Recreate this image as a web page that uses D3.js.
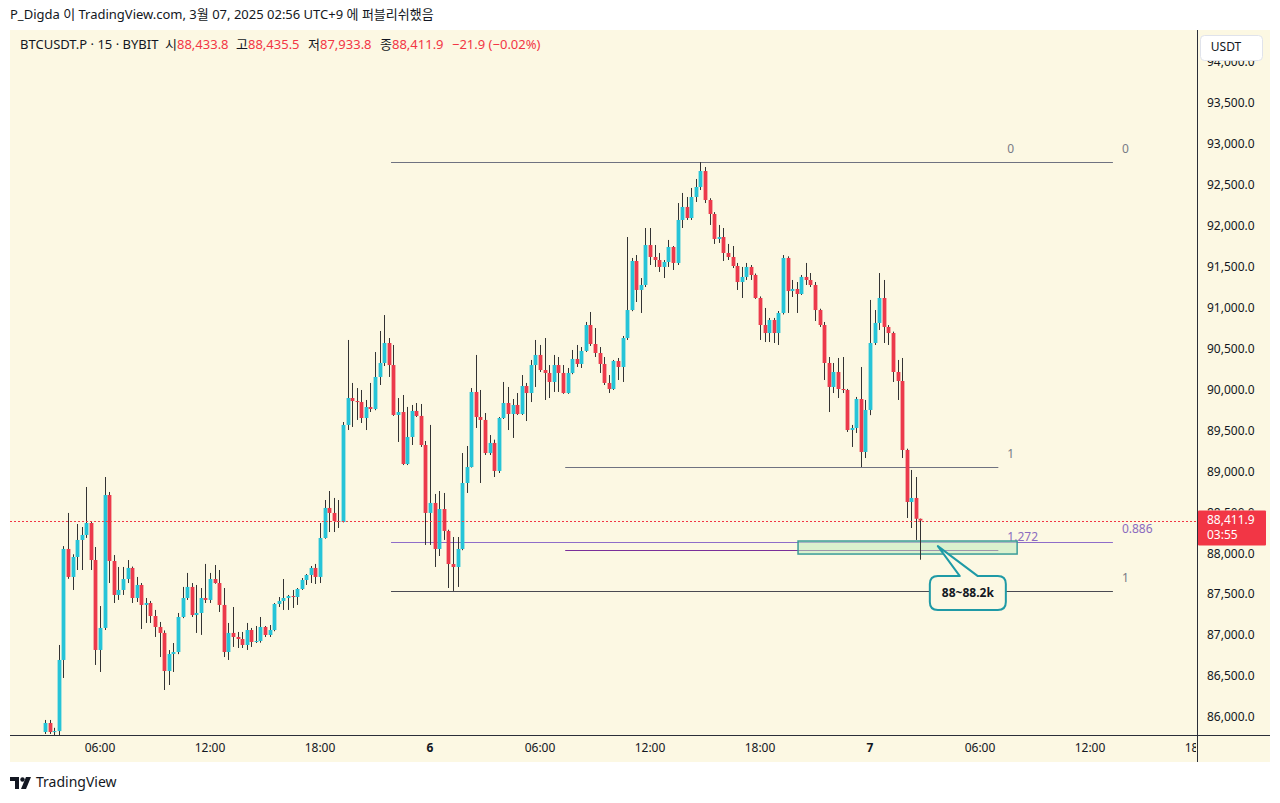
<!DOCTYPE html>
<html><head><meta charset="utf-8">
<script src="https://cdn.jsdelivr.net/npm/d3@7"></script>
<style>
body{margin:0;background:#ffffff;}
svg{display:block;font-family:"Noto Sans","Noto Sans CJK KR",sans-serif;}
</style>
</head><body>
<svg id="chart" width="1280" height="803"></svg>
<script>
// ---- DATA (15m candles, BTCUSDT.P, index 0 = 03:00 on the 5th) ----
const openP=[
85829,85939,85829,85840,86709,88065,87723,87967,88175,88236,
88382,87930,86831,87100,88724,87918,87503,87564,87698,87833,
87466,87625,87381,87405,87246,87112,87039,86574,86782,86806,
87234,87466,87601,87258,87283,87466,87442,87698,87649,87381,
86806,87039,86990,86965,86892,87075,86929,86941,87112,87014,
87075,87393,87430,87466,87490,87478,87576,87686,87747,87833,
87723,88199,88566,88505,88407,88395,89580,89909,89872,89860,
89665,89799,89775,90166,90337,90581,90312,89702,89738,89103,
89433,89751,89690,89335,88505,88627,88065,88553,88285,87881,
87845,88065,88871,89066,89983,89677,89641,89237,89360,89018,
89665,89848,89714,89824,89714,90056,89970,90312,90435,90251,
90215,90105,90312,90215,89970,90215,90386,90325,90484,90801,
90569,90459,90325,90093,90019,90361,90288,90642,90984,91583,
91229,91290,91778,91632,91595,91510,91571,91754,91559,92084,
92243,92108,92365,92487,92682,92328,92157,91852,91876,91681,
91632,91522,91326,91388,91510,91412,91131,90801,90703,90862,
90703,90948,91620,91216,91241,91180,91388,91351,91290,90984,
90801,90337,90044,90227,90019,90007,89518,89543,89897,89250,
89763,90581,90826,91131,90777,90703,90227,90117,89274,88639,
88688,88433.8];
const highP=[
85976,85976,85880,86892,88100,88505,88000,88370,88333,88822,
88400,88089,87368,88944,88761,87991,87845,87845,87930,87850,
87723,87649,87466,87430,87320,87173,87070,86830,86916,87283,
87601,87772,87649,87625,87588,87882,87772,87869,87808,87588,
87161,87356,87051,87051,87161,87100,87124,87234,87124,87136,
87405,87478,87698,87503,87564,87588,87710,87759,87857,87882,
88382,88663,88773,88688,88663,89616,90618,90093,90031,90007,
89885,90093,90471,90728,90923,90642,90557,89909,89946,89800,
89824,89848,89836,89384,89580,88737,88773,88749,88300,88211,
88211,89237,89323,90031,90435,90007,89726,89457,89400,89677,
90105,90044,89897,89970,90190,90093,90374,90618,90557,90642,
90312,90435,90410,90312,90276,90496,90557,90532,90838,90960,
90764,90532,90410,90190,90374,90398,90667,91876,91620,91656,
91375,91986,91986,91778,91681,91595,91840,91766,92291,92414,
92365,92475,92585,92792,92731,92350,92180,92023,91986,91791,
91766,91559,91510,91559,91534,91430,91150,91009,90887,90887,
90972,91656,91640,91351,91326,91412,91559,91436,91326,91000,
90838,90410,90337,90398,90410,90020,89580,89922,90288,89885,
91107,90984,91436,91351,90800,90720,90374,90398,89290,89030,
88944,88435.5];
const lowP=[
85805,85805,85790,85732,86489,87700,87564,87808,87808,88200,
87808,86648,86562,87075,87649,87405,87442,87503,87649,87405,
87417,87087,87161,87161,86990,86745,86342,86403,86562,86780,
87220,87442,87234,87039,87015,87405,87405,87640,87295,86745,
86709,86868,86855,86855,86831,86868,86916,86920,86990,86990,
87060,87356,87320,87320,87344,87381,87564,87625,87649,87637,
87649,88190,88272,88272,88321,88390,89518,89555,89641,89604,
89518,89738,89760,90068,90300,90166,89690,89372,89090,89090,
89335,89677,89311,88114,88114,87845,87979,88175,87588,87552,
87601,88050,88749,89060,89543,88871,89213,89213,88944,88993,
89653,89518,89421,89702,89702,89628,89860,90044,90227,89885,
89909,89983,89983,89960,89960,90200,90288,90276,90471,90545,
90410,90215,90068,89970,90007,90129,90105,90618,90970,91082,
90948,91265,91534,91510,91449,91375,91510,91473,91534,91986,
92084,92084,92304,92450,92291,92023,91791,91803,91583,91595,
91497,91229,91131,91351,91351,91120,90618,90593,90593,90581,
90557,90930,90948,91143,90948,91168,91290,91265,90850,90777,
90129,89738,89970,89909,89970,89494,89311,89482,89066,89176,
89700,90557,90740,90581,90557,90105,89885,89176,88443,88321,
88175,87933.8];
const closeP=[
85939,85829,85840,86709,88065,87723,87967,88175,88236,88382,
87930,86831,87100,88724,87918,87503,87564,87698,87833,87466,
87625,87381,87405,87246,87112,87039,86574,86782,86806,87234,
87466,87601,87258,87283,87466,87442,87698,87649,87381,86806,
87039,86990,86965,86892,87075,86929,86941,87112,87014,87075,
87393,87430,87466,87490,87478,87576,87686,87747,87833,87723,
88199,88566,88505,88407,88395,89580,89909,89872,89860,89665,
89799,89775,90166,90337,90581,90312,89702,89738,89103,89433,
89751,89690,89335,88505,88627,88065,88553,88285,87881,87845,
88065,88871,89066,89983,89677,89641,89237,89360,89018,89665,
89848,89714,89824,89714,90056,89970,90312,90435,90251,90215,
90105,90312,90215,89970,90215,90386,90325,90484,90801,90569,
90459,90325,90093,90019,90361,90288,90642,90984,91583,91229,
91290,91778,91632,91595,91510,91571,91754,91559,92084,92243,
92108,92365,92487,92682,92328,92157,91852,91876,91681,91632,
91522,91326,91388,91510,91412,91131,90801,90703,90862,90703,
90948,91620,91216,91241,91180,91388,91351,91290,90984,90801,
90337,90044,90227,90019,90007,89518,89543,89897,89250,89763,
90581,90826,91131,90777,90703,90227,90117,89274,88639,88688,
88433.8,88411.9];

const timeTickIdx=[12,36,60,84,108,132,156,180,204,228,252];
const timeTickLabels=["06:00","12:00","18:00","6","06:00","12:00","18:00","7","06:00","12:00","18:00"];
const boldTimeLabels=["6","7"];
const priceTicks=[86000,86500,87000,87500,88000,88500,89000,89500,90000,90500,91000,91500,92000,92500,93000,93500,94000];

const lastPrice=88411.9;
const countdown="03:55";

// Fibonacci tools
const fibAHigh=92792, fibALow=87552;
const fibALevels=[0,0.886,1];
const fibALabels=["0","0.886","1"];
const fibASpan=[75.5,233];
const fibBHigh=92792, fibBLow=89066;
const fibBLevels=[0,1,1.272];
const fibBLabels=["0","1","1.272"];
const fibBSpan=[113.5,208];

// Target zone and callout
const zoneSpan=[164.3,212.1];
const zonePrices=[88003,88162];
const calloutText="88~88.2k";
const calloutTip=[194.8,88100];

const headerText="P_Digda 이 TradingView.com, 3월 07, 2025 02:56 UTC+9 에 퍼블리쉬했음";
const legendSymbol="BTCUSDT.P · 15 · BYBIT";
const legendKeys=["시","고","저","종"];
const legendVals=["88,433.8","88,435.5","87,933.8","88,411.9"];
const legendChange="−21.9 (−0.02%)";

// ---- DRAWING ----
const W=1280,H=803;
const plot={l:10,r:1197,t:30,b:735};
const BG="#fcf8e3", TXT="#131722", UP="#26c4d8", DOWN="#ec3a4c", WICK="#333333", RED="#f23645";
const svg=d3.select("#chart");

const x=d3.scaleLinear().domain([12,180]).range([100,870]);
const y=d3.scaleLinear().domain([86000,93000]).range([718,145]);

// backgrounds
svg.append("rect").attr("x",0).attr("y",0).attr("width",W).attr("height",H).attr("fill","#ffffff");
svg.append("rect").attr("x",10).attr("y",30).attr("width",1260).attr("height",732).attr("fill",BG);

const defs=svg.append("defs");
defs.append("clipPath").attr("id","plotclip").append("rect")
  .attr("x",plot.l).attr("y",plot.t).attr("width",plot.r-plot.l).attr("height",plot.b-plot.t);
defs.append("clipPath").attr("id","xaxclip").append("rect")
  .attr("x",plot.l).attr("y",plot.b).attr("width",plot.r-plot.l-1).attr("height",27);

const g=svg.append("g").attr("clip-path","url(#plotclip)");

// fib lines
function drawFib(high,low,levels,labels,span,colors){
  levels.forEach((lv,k)=>{
    const p=high-lv*(high-low);
    g.append("line").attr("x1",x(span[0])).attr("x2",x(span[1]))
      .attr("y1",Math.round(y(p))+0.5).attr("y2",Math.round(y(p))+0.5)
      .attr("stroke",colors[k].line).attr("stroke-width",1);
    g.append("text").attr("x",x(span[1])+9).attr("y",y(p)-12)
      .attr("dominant-baseline","middle").attr("font-size",12)
      .attr("fill",colors[k].text).text(labels[k]);
  });
}
const gray={line:"#6f7280",text:"#787b86"};
drawFib(fibAHigh,fibALow,fibALevels,fibALabels,fibASpan,[gray,{line:"#8f6dc9",text:"#8b6bbf"},{line:"#4a4a52",text:"#787b86"}]);
drawFib(fibBHigh,fibBLow,fibBLevels,fibBLabels,fibBSpan,[gray,gray,{line:"#7a2f99",text:"#8b6bbf"}]);

// zone
g.append("rect").attr("x",x(zoneSpan[0])).attr("y",y(zonePrices[1]))
  .attr("width",x(zoneSpan[1])-x(zoneSpan[0])).attr("height",y(zonePrices[0])-y(zonePrices[1]))
  .attr("fill","rgba(190,235,190,0.55)").attr("stroke","#3b9c98").attr("stroke-width",1.5);

// candles
const bw=3.8;
const idx=d3.range(openP.length);
g.selectAll("line.wick").data(idx).enter().append("line").attr("class","wick")
  .attr("x1",i=>Math.round(x(i))+0.5).attr("x2",i=>Math.round(x(i))+0.5)
  .attr("y1",i=>y(highP[i])).attr("y2",i=>y(lowP[i]))
  .attr("stroke",WICK).attr("stroke-width",1);
g.selectAll("rect.body").data(idx).enter().append("rect").attr("class","body")
  .attr("x",i=>Math.round(x(i))+0.5-bw/2)
  .attr("y",i=>y(Math.max(openP[i],closeP[i])))
  .attr("width",bw)
  .attr("height",i=>Math.max(1,Math.abs(y(openP[i])-y(closeP[i]))))
  .attr("fill",i=>closeP[i]>=openP[i]?UP:DOWN);

// last price dotted line
g.append("line").attr("x1",plot.l).attr("x2",plot.r)
  .attr("y1",Math.round(y(lastPrice))+0.5).attr("y2",Math.round(y(lastPrice))+0.5)
  .attr("stroke",RED).attr("stroke-width",1).attr("stroke-dasharray","2,2");

// callout
const tx=x(calloutTip[0]), ty=y(calloutTip[1]);
const bx=tx-8, by=ty+30, bwid=76, bh=34, r=8;
const tailL=tx+22, tailR=tx+40;
const path=`M${bx+r},${by} L${tailL},${by} L${tx},${ty} L${tailR},${by} L${bx+bwid-r},${by} Q${bx+bwid},${by} ${bx+bwid},${by+r} L${bx+bwid},${by+bh-r} Q${bx+bwid},${by+bh} ${bx+bwid-r},${by+bh} L${bx+r},${by+bh} Q${bx},${by+bh} ${bx},${by+bh-r} L${bx},${by+r} Q${bx},${by} ${bx+r},${by} Z`;
g.append("path").attr("d",path).attr("fill",BG).attr("stroke","#1f9aa6").attr("stroke-width",2).attr("stroke-linejoin","round");
g.append("text").attr("x",bx+bwid/2).attr("y",by+bh/2+1).attr("text-anchor","middle")
  .attr("dominant-baseline","middle").attr("font-size",12).attr("font-weight","bold")
  .attr("fill",TXT).text(calloutText);

// axes borders
svg.append("line").attr("x1",plot.l).attr("x2",1270).attr("y1",plot.b+0.5).attr("y2",plot.b+0.5).attr("stroke","#2a2e39").attr("stroke-width",1);
svg.append("line").attr("x1",plot.r+0.5).attr("x2",plot.r+0.5).attr("y1",plot.t).attr("y2",762).attr("stroke","#2a2e39").attr("stroke-width",1);

// y axis labels (the one under the price tag is clipped to its visible part)
const fmt=d3.format(",.1f");
const ly=y(lastPrice);
defs.append("clipPath").attr("id","yaxclip").append("path")
  .attr("d",`M1198,30 H1280 V${ly-10} H1198 Z M1198,${ly+25} H1280 V735 H1198 Z`);
svg.append("g").attr("clip-path","url(#yaxclip)").selectAll("text").data(priceTicks).enter().append("text")
  .attr("x",1207).attr("y",p=>y(p)).attr("dominant-baseline","middle")
  .attr("font-size",12).attr("fill",TXT).text(p=>fmt(p));

// x axis labels
svg.append("g").attr("clip-path","url(#xaxclip)").selectAll("text").data(timeTickIdx).enter().append("text")
  .attr("x",i=>x(i)).attr("y",749).attr("text-anchor","middle").attr("dominant-baseline","middle")
  .attr("font-size",12).attr("fill",TXT)
  .attr("font-weight",(i,k)=>boldTimeLabels.includes(timeTickLabels[k])?"bold":"normal")
  .text((i,k)=>timeTickLabels[k]);

// price tag
svg.append("rect").attr("x",1198).attr("y",ly-10).attr("width",68).attr("height",35).attr("fill",RED).attr("rx",1);
svg.append("text").attr("x",1207).attr("y",ly).attr("dominant-baseline","middle").attr("font-size",12).attr("fill","#fff").text(fmt(lastPrice));
svg.append("text").attr("x",1207).attr("y",ly+15).attr("dominant-baseline","middle").attr("font-size",12).attr("fill","#fff").text(countdown);

// USDT box
svg.append("rect").attr("x",1200.5).attr("y",35.5).attr("width",62).attr("height",25).attr("rx",4).attr("fill","#ffffff").attr("stroke","#e0e3eb");
svg.append("text").attr("x",1226).attr("y",48).attr("text-anchor","middle").attr("dominant-baseline","middle").attr("font-size",12).attr("fill",TXT).text("USDT");

// header
svg.append("text").attr("x",10).attr("y",16).attr("dominant-baseline","middle").attr("font-size",13).attr("fill",TXT).text(headerText);

// legend
svg.append("text").attr("x",20).attr("y",46).attr("dominant-baseline","middle").attr("font-size",13).attr("fill",TXT).text(legendSymbol);
const legX=[165,236,308,380];
legendKeys.forEach((k,j)=>{
  const t=svg.append("text").attr("x",legX[j]).attr("y",46).attr("dominant-baseline","middle").attr("font-size",13);
  t.append("tspan").attr("fill",TXT).text(k);
  t.append("tspan").attr("fill",RED).text(legendVals[j]);
});
svg.append("text").attr("x",452).attr("y",46).attr("dominant-baseline","middle").attr("font-size",13).attr("fill",RED).text(legendChange);

// TradingView logo
const logo=svg.append("g").attr("fill",TXT);
logo.append("path").attr("d","M10,777 h9 v12 h-4 v-8 h-5 z");
logo.append("circle").attr("cx",22.5).attr("cy",779.5).attr("r",2.2);
logo.append("path").attr("d","M26,777 h5 l-5,12 h-5 z");
svg.append("text").attr("x",36).attr("y",783).attr("dominant-baseline","middle").attr("font-size",14).attr("fill",TXT).text("TradingView");
</script>
</body></html>
